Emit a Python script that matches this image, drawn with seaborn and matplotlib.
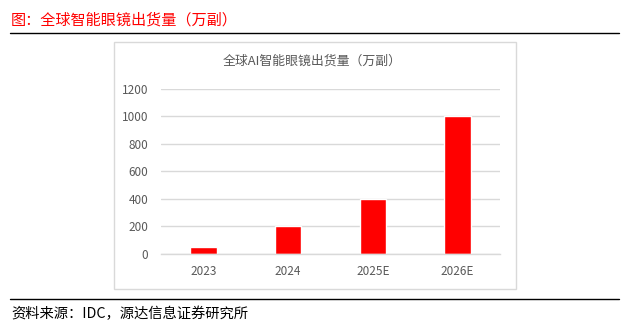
import matplotlib
matplotlib.use("Agg")
import matplotlib.pyplot as plt
import seaborn as sns
import pandas as pd
from matplotlib.patches import Rectangle
from matplotlib.lines import Line2D

categories = ["2023", "2024", "2025E", "2026E"]
shipments = [45, 200, 400, 1000]
yticks = [0, 200, 400, 600, 800, 1000, 1200]

header = "图：全球智能眼镜出货量（万副）"
chart_title = "全球AI智能眼镜出货量（万副）"
footer = "资料来源：IDC，源达信息证券研究所"

sns.set_theme(style="white")
plt.rcParams["font.family"] = ["Noto Sans CJK SC", "DejaVu Sans"]

W, H = 628, 326
fig = plt.figure(figsize=(W / 100, H / 100), dpi=100)

def fx(px):
    return px / W

def fy(py):
    return 1 - py / H

# chart frame box
fig.patches.append(Rectangle((fx(114), fy(289)), fx(516) - fx(114), fy(42) - fy(289),
                             transform=fig.transFigure, fill=False, edgecolor="#d9d9d9", lw=1.0))
# header and footer rules
fig.lines.append(Line2D([fx(10), fx(619)], [fy(33), fy(33)], transform=fig.transFigure, color="black", lw=1.0))
fig.lines.append(Line2D([fx(10), fx(619)], [fy(299), fy(299)], transform=fig.transFigure, color="black", lw=1.0))

fig.text(fx(11), fy(20), header, color="#ff0000", fontsize=10.9, va="center", ha="left")
fig.text(fx(11), fy(314), footer, color="black", fontsize=10.3, va="center", ha="left")
fig.text(fx(312), fy(61), chart_title, color="#595959", fontsize=9.3, va="center", ha="center")

ax = fig.add_axes([fx(161), fy(253.6), fx(500) - fx(161), fy(89) - fy(253.6)])
df = pd.DataFrame({"year": categories, "value": shipments})
sns.barplot(data=df, x="year", y="value", color="#ff0000", saturation=1, width=0.31, ax=ax)
ax.set_ylim(0, 1200)
ax.set_xlim(-0.5, len(categories) - 0.5)
ax.set_yticks(yticks)
ax.set_yticklabels([str(t) for t in yticks])
ax.yaxis.grid(True, color="#d9d9d9", lw=1.0)
ax.set_axisbelow(True)
for s in ["top", "right", "left"]:
    ax.spines[s].set_visible(False)
ax.spines["bottom"].set_color("#d9d9d9")
ax.spines["bottom"].set_linewidth(1.0)
ax.tick_params(axis="both", length=0, colors="#595959", labelsize=8.5)
ax.tick_params(axis="y", pad=9)
ax.tick_params(axis="x", pad=8)
ax.set_xlabel("")
ax.set_ylabel("")
ax.patch.set_alpha(0)

fig.savefig("out.png", dpi=100)
